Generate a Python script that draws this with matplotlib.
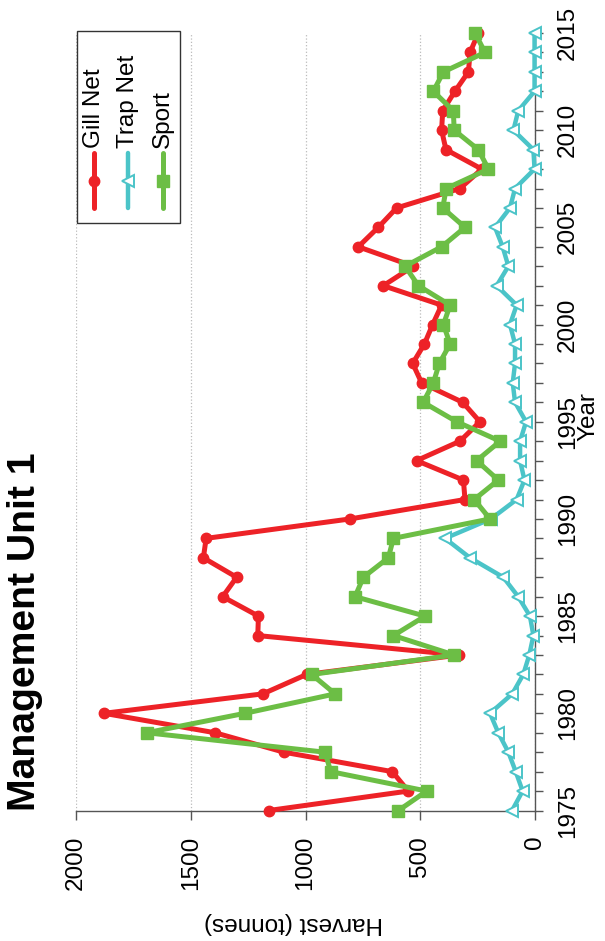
import matplotlib
matplotlib.use("Agg")
import matplotlib.pyplot as plt
from matplotlib.patches import Rectangle

plt.rcParams["font.family"] = ["Liberation Sans", "DejaVu Sans"]

# Data
years = list(range(1975, 2016))
gill_net = [1160, 552, 622, 1094, 1394, 1878, 1186, 995, 330, 1208,
            1205, 1361, 1300, 1445, 1433, 806, 305, 312, 516, 327,
            240, 315, 494, 533, 482, 446, 407, 661, 530, 770,
            683, 603, 327, 232, 388, 407, 402, 349, 290, 283, 247]
trap_net = [100, 54, 84, 116, 160, 196, 99, 51, 25, 7,
            22, 73, 138, 283, 392, 192, 80, 46, 65, 65,
            39, 87, 97, 87, 87, 109, 80, 167, 116, 141,
            174, 109, 87, 2, 7, 94, 73, 2, 2, 2, 2]
sport = [595, 472, 890, 915, 1692, 1264, 871, 973, 352, 617,
         479, 784, 748, 639, 617, 196, 265, 160, 254, 152,
         341, 487, 443, 417, 370, 399, 370, 508, 566, 407,
         305, 402, 387, 203, 247, 352, 356, 443, 399, 218, 261]

series_names = ["Gill Net", "Trap Net", "Sport"]
harvest_ticks = [0, 500, 1000, 1500, 2000]
year_ticks = list(range(1975, 2016, 5))

RED = "#ED2227"
CYAN = "#4BC4C8"
GREEN = "#6CBE45"
AXC = "#555555"

fig = plt.figure(figsize=(6.05, 9.41), dpi=100)
ax = fig.add_axes([76 / 605, 1 - 810.5 / 941, 459 / 605, 777.5 / 941])

# chart is drawn rotated: harvest runs right-to-left, years bottom-to-top
ax.plot(gill_net, years, color=RED, lw=3.6, marker="o", ms=7.5,
        mfc=RED, mec=RED, clip_on=False, zorder=3)
ax.plot(trap_net, years, color=CYAN, lw=3.2, marker="<", ms=8,
        mfc="white", mec=CYAN, mew=1.4, clip_on=False, zorder=4)
ax.plot(sport, years, color=GREEN, lw=3.6, marker="s", ms=8.5,
        mfc=GREEN, mec=GREEN, clip_on=False, zorder=5)

ax.set_xlim(2000, 0)
ax.set_ylim(1975, 2015)

for s in ["top", "left"]:
    ax.spines[s].set_visible(False)
for s in ["bottom", "right"]:
    ax.spines[s].set_color(AXC)
    ax.spines[s].set_linewidth(1.0)

ax.set_xticks(harvest_ticks)
ax.set_xticklabels([str(v) for v in harvest_ticks], rotation=90,
                   ha="center", va="top", fontsize=17.5)
ax.tick_params(axis="x", direction="out", length=6.2, width=1,
               color=AXC, pad=12)

ax.yaxis.tick_right()
ax.set_yticks(year_ticks)
ax.set_yticks(years, minor=True)
ax.set_yticklabels([str(v) for v in year_ticks], rotation=90,
                   ha="left", va="center", fontsize=17.5)
ax.tick_params(axis="y", which="both", direction="out", length=5.8,
               width=1, color=AXC, pad=10)

ax.grid(axis="x", linestyle=":", color="#bbbbbb", lw=0.9)
ax.set_axisbelow(True)

ax.yaxis.set_label_position("right")
ax.set_ylabel("Year", fontsize=17.5, rotation=90)
ax.yaxis.set_label_coords(1.0915, 0.507)
ax.set_xlabel("Harvest (tonnes)", fontsize=17.5, rotation=180)
ax.xaxis.set_label_coords(0.474, -0.1305)

fig.text(0.041, 0.3285, "Management Unit 1", rotation=90, ha="center",
         va="center", fontsize=28.2, fontweight="bold")

# legend, drawn by hand so it reads bottom-to-top like the rest
ax.add_patch(Rectangle((0.0015, 0.756), 0.225, 0.246, transform=ax.transAxes,
                       fill=True, facecolor="white", edgecolor="#333333",
                       lw=1.0, clip_on=False, zorder=6))
leg_styles = [
    dict(color=RED, marker="o", ms=7.5, mfc=RED, mec=RED, lw=3.6),
    dict(color=CYAN, marker="<", ms=8, mfc="white", mec=CYAN, mew=1.4, lw=3.2),
    dict(color=GREEN, marker="s", ms=8.5, mfc=GREEN, mec=GREEN, lw=3.6),
]
leg_x = [0.0392, 0.1133, 0.189]
for name, st, lx in zip(series_names, leg_styles, leg_x):
    ax.plot([lx, lx], [0.775, 0.8457], transform=ax.transAxes,
            clip_on=False, zorder=7, solid_capstyle="round",
            **{k: v for k, v in st.items() if k not in ("marker", "ms", "mfc", "mec", "mew")})
    mk = {k: v for k, v in st.items() if k in ("marker", "ms", "mfc", "mec", "mew")}
    ax.plot([lx], [0.810], transform=ax.transAxes, clip_on=False,
            zorder=8, linestyle="none", **mk)
    ax.text(lx, 0.852, name, transform=ax.transAxes, rotation=90,
            ha="center", va="bottom", fontsize=17.5, zorder=9)

fig.savefig("out.png", dpi=100)
